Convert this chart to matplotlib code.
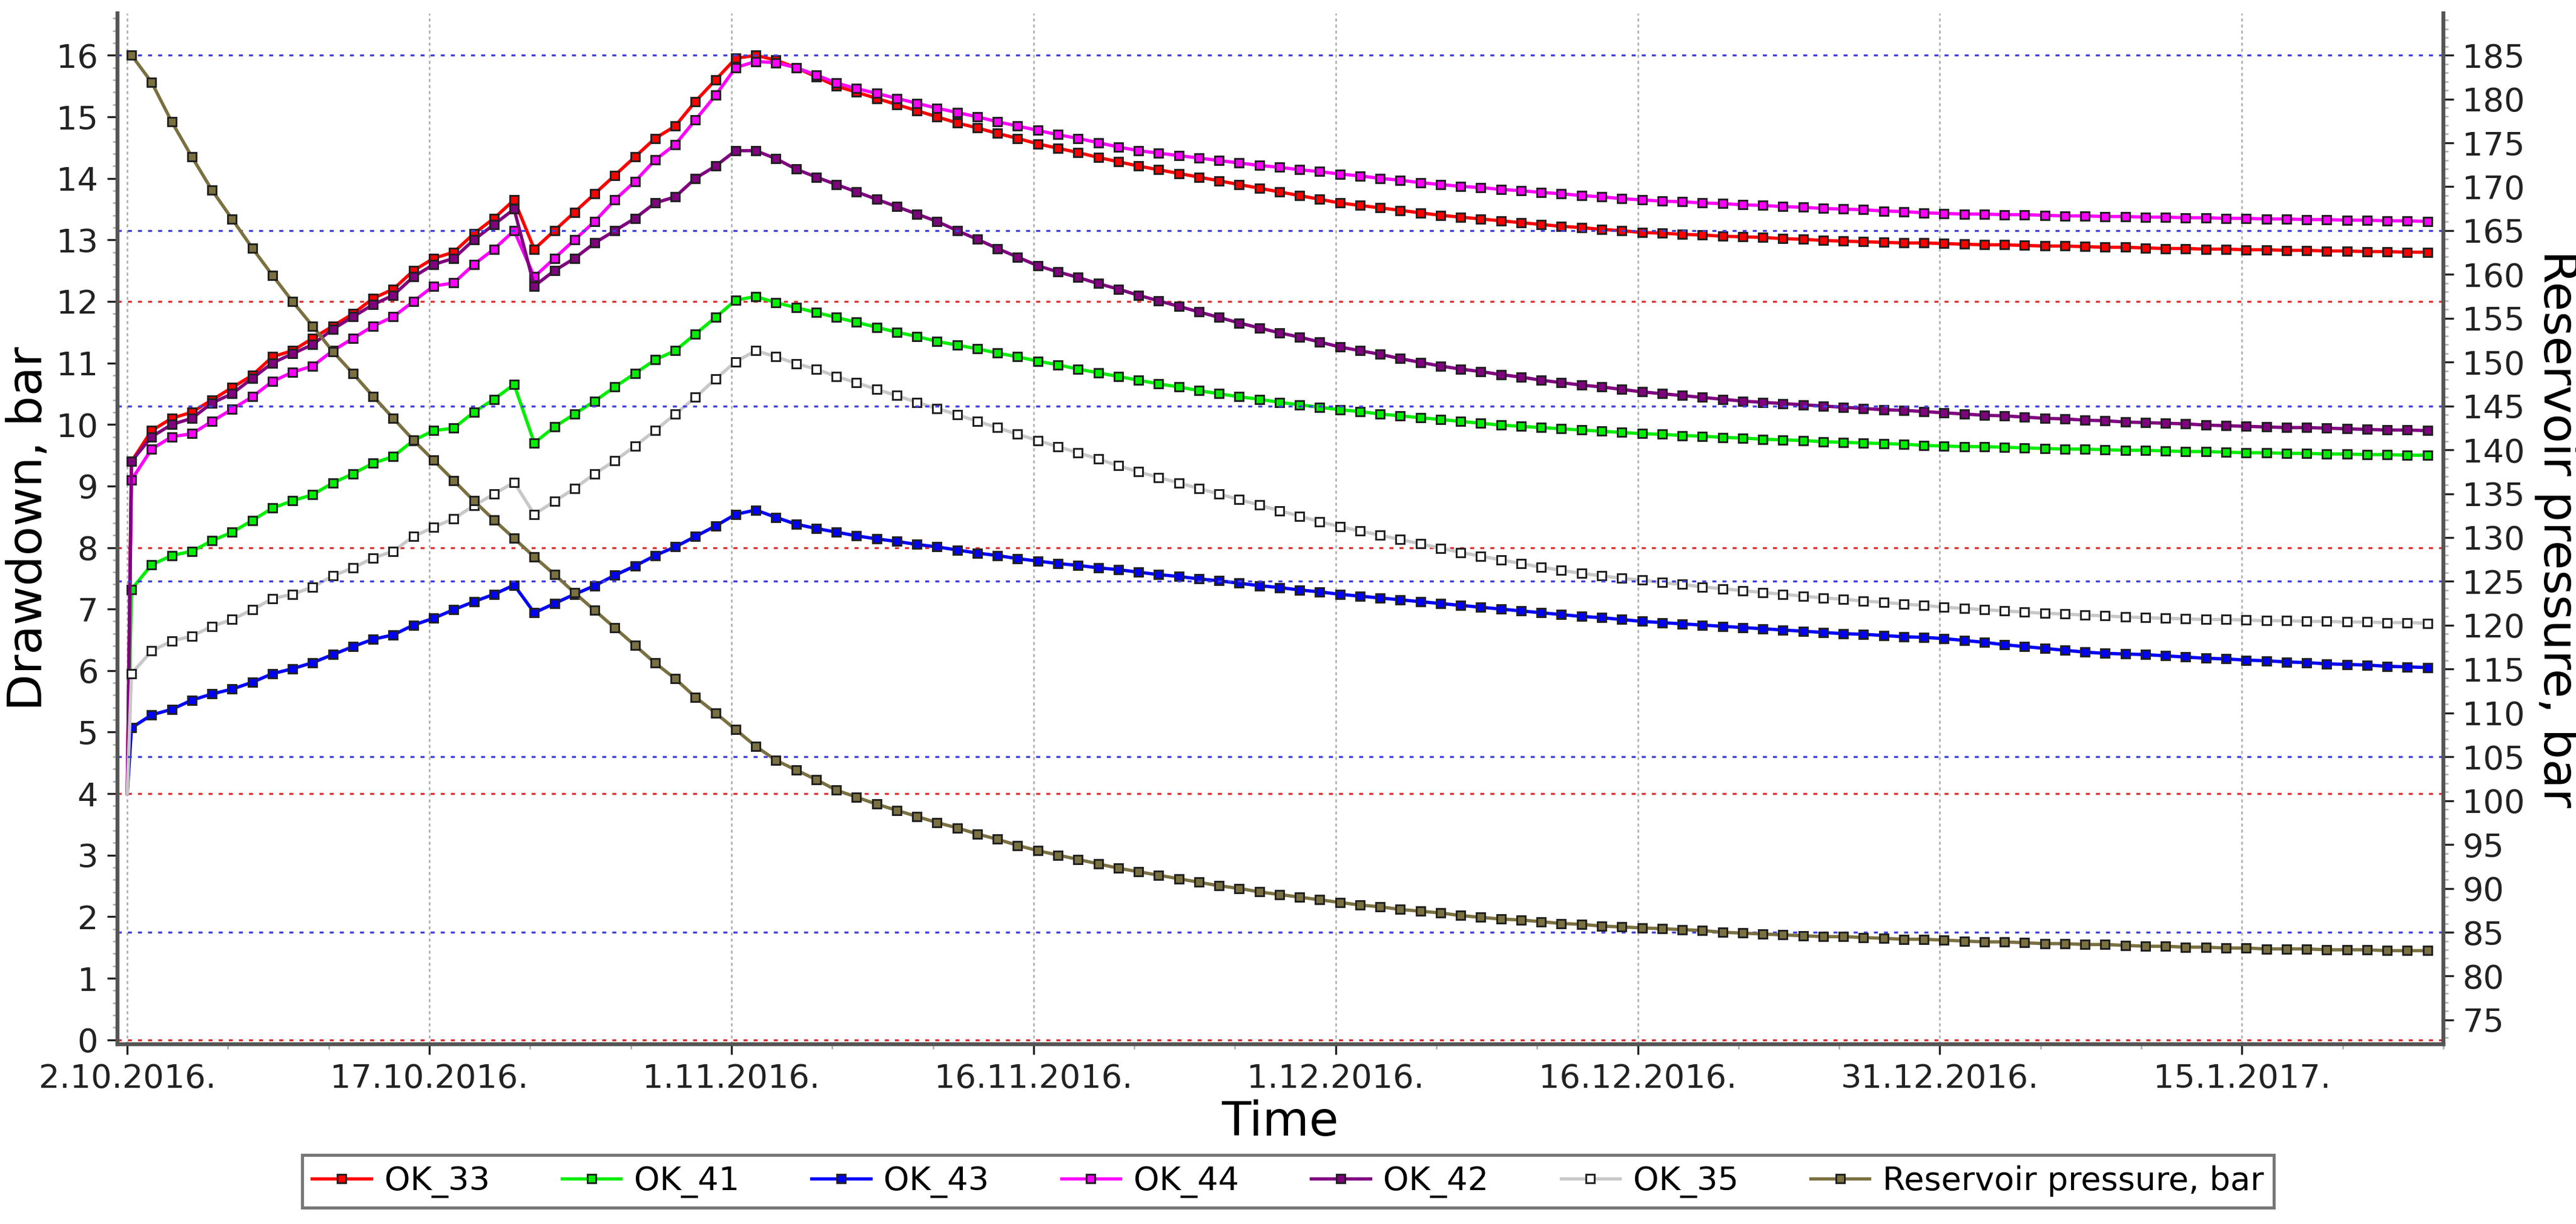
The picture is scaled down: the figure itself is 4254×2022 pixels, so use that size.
import datetime as dt

import matplotlib
matplotlib.use("Agg")
import matplotlib.pyplot as plt
from matplotlib.ticker import MultipleLocator

plt.rcParams['font.family'] = ['Liberation Sans Narrow', 'DejaVu Sans']

# daily samples, first sample 2.10.2016 ~05:00
start = dt.datetime(2016, 10, 2, 5)
drawdown_start = 4.0  # value just before the first sample (2.10.2016 00:00)

ok_33 = [9.4, 9.9, 10.1, 10.2, 10.4, 10.6, 10.8, 11.1, 11.2, 11.4,
         11.6, 11.8, 12.05, 12.2, 12.5, 12.7, 12.8, 13.1, 13.35, 13.65,
         12.85, 13.15, 13.45, 13.75, 14.05, 14.35, 14.65, 14.85, 15.25, 15.6,
         15.95, 16.0, 15.92, 15.8, 15.65, 15.5, 15.4, 15.3, 15.2, 15.1,
         15.0, 14.9, 14.82, 14.73, 14.65, 14.56, 14.49, 14.42, 14.34, 14.27,
         14.2, 14.14, 14.08, 14.02, 13.96, 13.9, 13.84, 13.78, 13.72, 13.66,
         13.6, 13.56, 13.52, 13.48, 13.44, 13.4, 13.37, 13.34, 13.31, 13.28,
         13.25, 13.22, 13.2, 13.17, 13.15, 13.12, 13.11, 13.09, 13.08, 13.06,
         13.05, 13.04, 13.02, 13.01, 12.99, 12.98, 12.97, 12.96, 12.95, 12.95,
         12.94, 12.93, 12.92, 12.92, 12.91, 12.9, 12.9, 12.89, 12.88, 12.88,
         12.87, 12.86, 12.86, 12.85, 12.85, 12.84, 12.84, 12.83, 12.83, 12.82,
         12.82, 12.81, 12.81, 12.8, 12.8]
ok_44 = [9.1, 9.6, 9.8, 9.85, 10.05, 10.25, 10.45, 10.7, 10.85, 10.95,
         11.2, 11.4, 11.6, 11.75, 12.0, 12.25, 12.3, 12.6, 12.85, 13.15,
         12.4, 12.7, 13.0, 13.3, 13.65, 13.95, 14.3, 14.55, 14.95, 15.35,
         15.8, 15.9, 15.88, 15.8, 15.68, 15.55, 15.46, 15.38, 15.3, 15.22,
         15.14, 15.07, 15.0, 14.92, 14.85, 14.78, 14.71, 14.65, 14.58, 14.51,
         14.45, 14.41, 14.37, 14.33, 14.29, 14.25, 14.21, 14.18, 14.14, 14.11,
         14.07, 14.04, 14.0, 13.97, 13.93, 13.9, 13.87, 13.85, 13.82, 13.8,
         13.77, 13.75, 13.72, 13.7, 13.67, 13.65, 13.63, 13.62, 13.6, 13.59,
         13.57, 13.56, 13.54, 13.53, 13.51, 13.5, 13.49, 13.47, 13.46, 13.44,
         13.43, 13.42, 13.42, 13.41, 13.41, 13.4, 13.39, 13.39, 13.38, 13.38,
         13.37, 13.37, 13.36, 13.36, 13.35, 13.35, 13.34, 13.34, 13.33, 13.33,
         13.32, 13.32, 13.31, 13.31, 13.3]
ok_42 = [9.4, 9.8, 10.0, 10.1, 10.35, 10.5, 10.75, 11.0, 11.15, 11.3,
         11.55, 11.75, 11.95, 12.1, 12.4, 12.6, 12.7, 13.0, 13.25, 13.5,
         12.25, 12.5, 12.7, 12.95, 13.15, 13.35, 13.6, 13.7, 14.0, 14.2,
         14.45, 14.45, 14.32, 14.15, 14.02, 13.9, 13.78, 13.66, 13.54, 13.42,
         13.3, 13.15, 13.01, 12.86, 12.72, 12.58, 12.48, 12.39, 12.29, 12.2,
         12.1, 12.01, 11.92, 11.83, 11.74, 11.65, 11.57, 11.49, 11.42, 11.34,
         11.26, 11.2, 11.14, 11.07, 11.01, 10.95, 10.9, 10.86, 10.81, 10.77,
         10.72, 10.68, 10.64, 10.61, 10.57, 10.53, 10.5, 10.47, 10.44, 10.41,
         10.38, 10.36, 10.34, 10.32, 10.3, 10.28, 10.26, 10.24, 10.23, 10.21,
         10.19, 10.17, 10.15, 10.14, 10.12, 10.1, 10.09, 10.07, 10.06, 10.04,
         10.03, 10.02, 10.01, 9.99, 9.98, 9.97, 9.96, 9.95, 9.95, 9.94,
         9.93, 9.92, 9.91, 9.91, 9.9]
ok_41 = [7.32, 7.72, 7.87, 7.94, 8.11, 8.25, 8.44, 8.64, 8.76, 8.86,
         9.05, 9.2, 9.37, 9.48, 9.74, 9.9, 9.94, 10.2, 10.41, 10.65,
         9.7, 9.96, 10.17, 10.38, 10.61, 10.83, 11.05, 11.2, 11.47, 11.74,
         12.02, 12.08, 11.98, 11.9, 11.82, 11.74, 11.66, 11.58, 11.5, 11.43,
         11.35, 11.29, 11.23, 11.16, 11.1, 11.03, 10.97, 10.9, 10.84, 10.78,
         10.72, 10.66, 10.61, 10.55, 10.5, 10.45, 10.41, 10.36, 10.32, 10.28,
         10.24, 10.21, 10.17, 10.14, 10.11, 10.08, 10.05, 10.02, 9.99, 9.97,
         9.95, 9.93, 9.91, 9.89, 9.87, 9.85, 9.84, 9.82, 9.81, 9.79,
         9.78, 9.76, 9.75, 9.74, 9.72, 9.71, 9.7, 9.69, 9.68, 9.66,
         9.65, 9.64, 9.64, 9.63, 9.62, 9.61, 9.6, 9.6, 9.59, 9.58,
         9.58, 9.57, 9.56, 9.56, 9.55, 9.54, 9.54, 9.53, 9.53, 9.52,
         9.52, 9.51, 9.51, 9.5, 9.5]
ok_35 = [5.95, 6.32, 6.48, 6.56, 6.72, 6.83, 6.99, 7.17, 7.24, 7.36,
         7.54, 7.67, 7.83, 7.94, 8.18, 8.33, 8.47, 8.68, 8.87, 9.06,
         8.54, 8.75, 8.96, 9.2, 9.41, 9.65, 9.9, 10.17, 10.44, 10.74,
         11.02, 11.2, 11.1, 10.99, 10.9, 10.78, 10.68, 10.57, 10.47, 10.36,
         10.26, 10.16, 10.05, 9.95, 9.84, 9.74, 9.64, 9.54, 9.44, 9.33,
         9.23, 9.14, 9.05, 8.96, 8.87, 8.78, 8.69, 8.6, 8.51, 8.42,
         8.34, 8.27, 8.2, 8.13, 8.06, 7.99, 7.92, 7.86, 7.8, 7.74,
         7.68, 7.63, 7.58, 7.54, 7.5, 7.47, 7.43, 7.4, 7.36, 7.33,
         7.3, 7.27, 7.24, 7.21, 7.18, 7.16, 7.13, 7.11, 7.08, 7.06,
         7.03, 7.01, 6.99, 6.97, 6.95, 6.93, 6.92, 6.9, 6.89, 6.87,
         6.86, 6.85, 6.84, 6.83, 6.83, 6.82, 6.81, 6.81, 6.8, 6.8,
         6.79, 6.79, 6.78, 6.78, 6.77]
ok_43 = [5.07, 5.28, 5.37, 5.52, 5.62, 5.7, 5.81, 5.95, 6.03, 6.13,
         6.26, 6.39, 6.51, 6.58, 6.74, 6.85, 6.99, 7.12, 7.24, 7.39,
         6.94, 7.09, 7.24, 7.38, 7.55, 7.7, 7.87, 8.01, 8.18, 8.35,
         8.54, 8.61, 8.49, 8.38, 8.31, 8.25, 8.19, 8.14, 8.1, 8.05,
         8.01, 7.96, 7.91, 7.87, 7.82, 7.78, 7.74, 7.71, 7.67, 7.64,
         7.6, 7.56, 7.53, 7.49, 7.46, 7.42, 7.38, 7.35, 7.31, 7.28,
         7.24, 7.21, 7.18, 7.15, 7.12, 7.09, 7.06, 7.03, 7.0, 6.97,
         6.94, 6.91, 6.88, 6.86, 6.83, 6.8, 6.78, 6.76, 6.74, 6.72,
         6.7, 6.68, 6.66, 6.64, 6.62, 6.6, 6.59, 6.57, 6.55, 6.54,
         6.52, 6.49, 6.46, 6.42, 6.39, 6.36, 6.33, 6.3, 6.28, 6.27,
         6.26, 6.24, 6.22, 6.2, 6.19, 6.17, 6.16, 6.14, 6.13, 6.11,
         6.1, 6.09, 6.07, 6.06, 6.05]
reservoir_pressure = [185.0, 181.9, 177.4, 173.4, 169.6, 166.3, 163.0, 159.9, 156.9, 154.1,
                      151.2, 148.7, 146.1, 143.6, 141.1, 138.8, 136.5, 134.2, 132.0, 129.9,
                      127.8, 125.8, 123.7, 121.7, 119.7, 117.7, 115.7, 113.9, 111.8, 110.0,
                      108.1, 106.2, 104.6, 103.5, 102.4, 101.2, 100.4, 99.6, 98.9, 98.2,
                      97.5, 96.9, 96.2, 95.6, 94.9, 94.3, 93.8, 93.3, 92.8, 92.3,
                      91.9, 91.5, 91.1, 90.7, 90.3, 90.0, 89.6, 89.3, 89.0, 88.7,
                      88.4, 88.1, 87.9, 87.6, 87.4, 87.2, 86.9, 86.7, 86.5, 86.4,
                      86.2, 86.0, 85.9, 85.7, 85.6, 85.5, 85.4, 85.3, 85.2, 85.0,
                      84.9, 84.8, 84.7, 84.6, 84.5, 84.5, 84.4, 84.3, 84.2, 84.2,
                      84.1, 84.0, 83.9, 83.9, 83.8, 83.7, 83.7, 83.6, 83.6, 83.5,
                      83.4, 83.4, 83.3, 83.3, 83.2, 83.2, 83.1, 83.1, 83.1, 83.0,
                      83.0, 83.0, 82.9, 82.9, 82.9]

drawdown_series = [
    ('OK_33', ok_33, '#ff0000', '#ff0000'),
    ('OK_41', ok_41, '#00ee00', '#00ee00'),
    ('OK_43', ok_43, '#0000ff', '#0000ff'),
    ('OK_44', ok_44, '#ff00ff', '#ff00ff'),
    ('OK_42', ok_42, '#800080', '#800080'),
    ('OK_35', ok_35, '#c8c8c8', '#ffffff'),
]
pressure_color = '#7a7040'

times = [start + dt.timedelta(days=i) for i in range(len(ok_33))]
t0 = dt.datetime(2016, 10, 2)

fig = plt.figure(figsize=(14.18, 6.74), dpi=300)
ax = fig.add_axes([0.0455, 0.147, 0.903, 0.842])
ax2 = ax.twinx()

mk = dict(marker='s', markersize=3.2, markeredgecolor='#202020', markeredgewidth=0.7)
handles = []
for name, vals, color, face in drawdown_series:
    ax.plot([t0, times[0]], [drawdown_start, vals[0]], color=color, lw=1.3, zorder=3)
    h, = ax.plot(times, vals, color=color, lw=1.3, markerfacecolor=face, zorder=3, label=name, **mk)
    handles.append(h)
h, = ax2.plot(times, reservoir_pressure, color=pressure_color, lw=1.3,
              markerfacecolor=pressure_color, label='Reservoir pressure, bar', **mk)
handles.append(h)

ax.set_xlim(t0 - dt.timedelta(hours=12), t0 + dt.timedelta(days=114.9))
ax.set_ylim(-0.07, 16.68)
ax2.set_ylim(72.25, 189.75)

major_days = [t0 + dt.timedelta(days=15 * k) for k in range(8)]
ax.set_xticks(major_days)
ax.set_xticklabels([f'{d.day}.{d.month}.{d.year}.' for d in major_days])
ax.set_xticks([t0 + dt.timedelta(days=5 * k) for k in range(24)], minor=True)
ax.yaxis.set_major_locator(MultipleLocator(1))
ax.yaxis.set_minor_locator(MultipleLocator(0.2))
ax2.yaxis.set_major_locator(MultipleLocator(5))
ax2.yaxis.set_minor_locator(MultipleLocator(1))
ax2.set_yticks(list(range(75, 190, 5)))

for a in (ax, ax2):
    a.tick_params(labelsize=13, colors='#222222', length=4)
    a.tick_params(which='minor', length=2, color='#aaaaaa')
    for s in a.spines.values():
        s.set_color('#555555')
        s.set_linewidth(1.5)
ax.spines['top'].set_visible(False)
ax2.spines['top'].set_visible(False)

for d in major_days:
    ax.axvline(d, color='#aaaaaa', lw=0.6, ls=(0, (2, 2)), zorder=0)
for v in [0, 4, 8, 12]:
    ax.axhline(v, color='#e03030', lw=0.8, ls=(0, (2, 3)), zorder=0)
for v in [85, 105, 125, 145, 165, 185]:
    ax2.axhline(v, color='#4040e0', lw=0.8, ls=(0, (2, 3)), zorder=0)

ax.set_xlabel('Time', fontsize=19, labelpad=2)
ax.set_ylabel('Drawdown, bar', fontsize=19, labelpad=2)
ax2.set_ylabel('Reservoir pressure, bar', fontsize=19, rotation=-90, labelpad=22)

leg = fig.legend(handles=handles, loc='lower center', bbox_to_anchor=(0.5, 0.0), ncol=7,
                 fontsize=13, frameon=True, fancybox=False, edgecolor='#555555',
                 handlelength=1.8, handletextpad=0.4, columnspacing=2.2, borderpad=0.3)
leg.get_frame().set_linewidth(1.2)

fig.savefig('out.png', dpi=300)
